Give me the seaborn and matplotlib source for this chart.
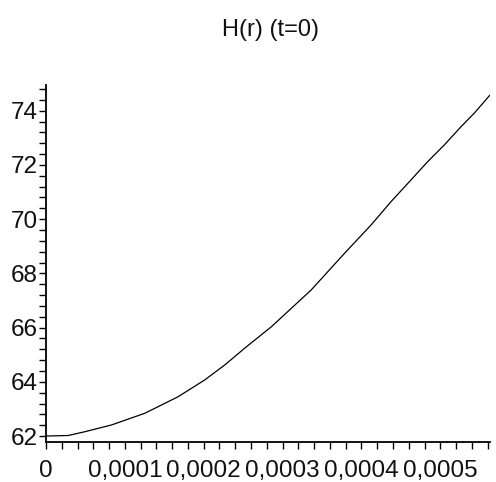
import matplotlib
matplotlib.use("Agg")
import matplotlib.pyplot as plt
import seaborn as sns
import pandas as pd
from matplotlib.ticker import MultipleLocator, FixedLocator, FixedFormatter

# Radius r and height H(r) at t = 0
r_values = [0.0, 0.0000282, 0.0000494, 0.0000832, 0.0001253, 0.0001675,
            0.0002013, 0.0002266, 0.0002519, 0.0002857, 0.0003363, 0.0003785,
            0.0004123, 0.0004376, 0.0004629, 0.0004839, 0.0005051, 0.0005262,
            0.0005430, 0.0005630]
h_values = [62.00, 62.02, 62.16, 62.41, 62.84, 63.45,
            64.07, 64.62, 65.24, 66.03, 67.39, 68.74,
            69.79, 70.65, 71.45, 72.12, 72.74, 73.41,
            73.91, 74.58]

x_ticks = [0.0, 0.0001, 0.0002, 0.0003, 0.0004, 0.0005]
x_tick_labels = ["0", "0,0001", "0,0002", "0,0003", "0,0004", "0,0005"]
y_ticks = [62, 64, 66, 68, 70, 72, 74]
y_tick_labels = ["62", "64", "66", "68", "70", "72", "74"]
title = "H(r) (t=0)"

df = pd.DataFrame({"r": r_values, "H": h_values})

sns.set_style("ticks")
plt.rcParams["font.family"] = ["Liberation Sans", "DejaVu Sans"]

fig = plt.figure(figsize=(4.96, 4.82), dpi=100)
ax = fig.add_axes([46 / 496, 40 / 482, 444 / 496, 357 / 482])

sns.lineplot(data=df, x="r", y="H", color="black", linewidth=0.9, ax=ax)

ax.set_xlim(0, 0.000563)
ax.set_ylim(61.78, 74.95)

ax.xaxis.set_major_locator(FixedLocator(x_ticks))
ax.xaxis.set_major_formatter(FixedFormatter(x_tick_labels))
ax.xaxis.set_minor_locator(MultipleLocator(0.00002))
ax.yaxis.set_major_locator(FixedLocator(y_ticks))
ax.yaxis.set_major_formatter(FixedFormatter(y_tick_labels))
ax.yaxis.set_minor_locator(MultipleLocator(0.4))

ax.tick_params(axis="both", which="both", direction="out", length=5,
               width=1.0, color="black", labelsize=17.5, labelcolor="#111111")
ax.tick_params(axis="x", which="major", pad=8)
ax.tick_params(axis="y", which="major", pad=1)

ax.set_xlabel("")
ax.set_ylabel("")
sns.despine(ax=ax)
for side in ("left", "bottom"):
    ax.spines[side].set_linewidth(1.3)
    ax.spines[side].set_color("black")

fig.text(270 / 496, 1 - 30 / 482, title, ha="center", va="center",
         fontsize=17, color="#111111")

fig.savefig("out.png", dpi=100, facecolor="white")
